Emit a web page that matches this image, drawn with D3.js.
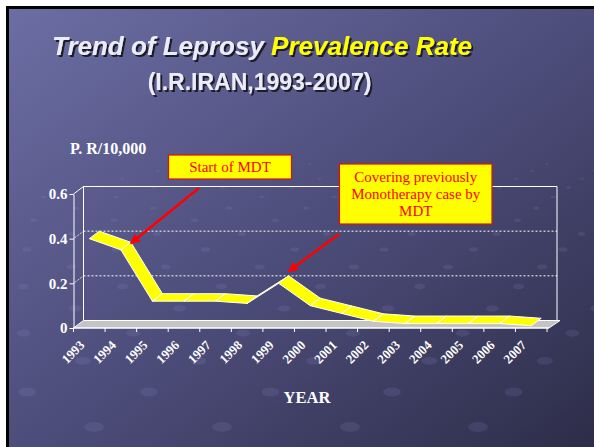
<!DOCTYPE html>
<html>
<head>
<meta charset="utf-8">
<script src="https://cdn.jsdelivr.net/npm/d3@7"></script>
<style>
  body { margin: 0; background: #fff; }
  svg { display: block; }
</style>
</head>
<body>
<script>
// data
const years = ["1993", "1994", "1995", "1996", "1997", "1998", "1999", "2000",
  "2001", "2002", "2003", "2004", "2005", "2006", "2007"];
const rates = [0.40, 0.35, 0.12, 0.12, 0.12, 0.11, 0.20, 0.10,
  0.065, 0.03, 0.02, 0.02, 0.02, 0.02, 0.01];
const yTicks = [0, 0.2, 0.4, 0.6];
const gridTicks = [0.2, 0.4];

const w = 594;
const h = 447;
const dx = 10, dy = -7.5; // 3d depth offset

const svg = d3.select("body").append("svg")
  .attr("width", w)
  .attr("height", h);

// slide background
const defs = svg.append("defs");
const grad = defs.append("linearGradient")
  .attr("id", "bg")
  .attr("x1", 0).attr("y1", 0).attr("x2", 1).attr("y2", 1);
grad.append("stop").attr("offset", "0%").attr("stop-color", "#6c6da3");
grad.append("stop").attr("offset", "50%").attr("stop-color", "#4d4d7b");
grad.append("stop").attr("offset", "100%").attr("stop-color", "#2c2c47");

defs.append("filter")
  .attr("id", "shadow")
  .attr("x", "-5%").attr("y", "-20%").attr("width", "115%").attr("height", "150%")
  .append("feDropShadow")
  .attr("dx", 2).attr("dy", 2)
  .attr("stdDeviation", 0.6)
  .attr("flood-color", "#1a1a2c")
  .attr("flood-opacity", 1);

svg.append("rect").attr("x", 6).attr("y", 6).attr("width", w).attr("height", h).attr("fill", "#000");
svg.append("rect").attr("x", 9).attr("y", 9).attr("width", w).attr("height", h).attr("fill", "url(#bg)");

// decorative dots of the template (perspective lattice)
let rowY = 427, rowX = 350;
const dots = [];
for (let k = 0; k < 16; k++) {
  const f = Math.pow(0.89, k);
  const s = 128 * Math.pow(0.95, k);
  for (let m = -8; m <= 8; m++) {
    const x = rowX + m * s;
    if (x > 0 && x < w + 20) dots.push({ x: x, y: rowY, f: f });
  }
  rowY -= 35 * f;
  rowX += 42 * f;
}
svg.append("g").selectAll("ellipse")
  .data(dots)
  .enter()
  .append("ellipse")
  .attr("cx", (d) => d.x)
  .attr("cy", (d) => d.y)
  .attr("rx", (d) => 10 * d.f)
  .attr("ry", (d) => 5 * d.f)
  .attr("fill", "rgba(150,150,210,0.15)");

// title
const title = svg.append("g")
  .attr("font-family", "'Liberation Sans', Arial, sans-serif")
  .attr("font-weight", "bold")
  .attr("text-anchor", "middle")
  .attr("filter", "url(#shadow)");

const t1 = title.append("text")
  .attr("x", 262).attr("y", 55)
  .attr("font-size", 26)
  .attr("font-style", "italic");
t1.append("tspan").text("Trend of Leprosy ").attr("fill", "#ececf8");
t1.append("tspan").text("Prevalence Rate").attr("fill", "#ffff00");
title.append("text")
  .attr("x", 259.5).attr("y", 90)
  .attr("font-size", 23)
  .attr("fill", "#ececf8")
  .text("(I.R.IRAN,1993-2007)");

/* ######## scales ######### */
const xScale = d3.scaleBand().domain(years).range([73.5, 547]);
const yScale = d3.scaleLinear().domain([0, 0.6]).range([328, 194]);
const cx = (d) => xScale(d) + xScale.bandwidth() / 2;

const x0 = xScale.range()[0], x1 = xScale.range()[1];
const yTop = yScale(0.6), yBase = yScale(0);

const chart = svg.append("g");

// floor
chart.append("polygon")
  .attr("points", [[x0, yBase], [x1 + 2, yBase], [x1 + 2 + dx + 1, yBase + dy], [x0 + dx, yBase + dy]].join(" "))
  .attr("fill", "#c4c4c4")
  .attr("stroke", "#fff")
  .attr("stroke-width", 1);

// back wall outline + side edge
chart.append("path")
  .attr("d", "M" + (x0 + dx) + "," + (yBase + dy) + "V" + (yTop + dy) + "H" + (x1 + dx) + "V" + (yBase + dy)
    + "M" + x0 + "," + yTop + "L" + (x0 + dx) + "," + (yTop + dy))
  .attr("fill", "none")
  .attr("stroke", "#fff")
  .attr("stroke-width", 1);

// gridlines on the back wall
chart.selectAll(".grid")
  .data(gridTicks)
  .enter()
  .append("line")
  .attr("class", "grid")
  .attr("x1", x0 + dx).attr("x2", x1 + dx)
  .attr("y1", (d) => yScale(d) + dy).attr("y2", (d) => yScale(d) + dy)
  .attr("stroke", "#fff")
  .attr("stroke-dasharray", "2,2");

chart.selectAll(".gridside")
  .data(gridTicks)
  .enter()
  .append("line")
  .attr("class", "gridside")
  .attr("x1", x0).attr("x2", x0 + dx)
  .attr("y1", (d) => yScale(d)).attr("y2", (d) => yScale(d) + dy)
  .attr("stroke", "#fff")
  .attr("stroke-dasharray", "1,1");

// ribbon
const segs = d3.pairs(years.map((y, i) => [cx(y), yScale(rates[i])]));
chart.selectAll(".seg")
  .data(segs)
  .enter()
  .append("polygon")
  .attr("class", "seg")
  .attr("points", (d) => [d[0], d[1], [d[1][0] + dx, d[1][1] + dy], [d[0][0] + dx, d[0][1] + dy]].join(" "))
  .attr("fill", "#ffff00")
  .attr("stroke", "#fff")
  .attr("stroke-width", 1)
  .attr("stroke-linejoin", "round");

// y axis
const yAxis = d3.axisLeft(yScale)
  .tickValues(yTicks)
  .tickSize(4)
  .tickSizeOuter(0)
  .tickPadding(2)
  .tickFormat((d) => (d === 0 ? "0" : d3.format(".1f")(d)));

const yG = svg.append("g")
  .attr("transform", "translate(" + x0 + ",0)")
  .call(yAxis);
yG.selectAll("line, path").attr("stroke", "#fff");
yG.selectAll("text")
  .attr("fill", "#fff")
  .attr("font-family", "'Liberation Serif', 'Times New Roman', serif")
  .attr("font-weight", "bold")
  .attr("font-size", 15);

// x axis: ticks between categories, rotated labels
const xG = svg.append("g").attr("transform", "translate(0," + yBase + ")");
xG.append("line")
  .attr("x1", x0).attr("x2", x1 + 2)
  .attr("stroke", "#fff");
xG.selectAll(".tick")
  .data(years.map((y) => xScale(y)).concat([x1]))
  .enter()
  .append("line")
  .attr("x1", (d) => d).attr("x2", (d) => d)
  .attr("y1", 0).attr("y2", 4)
  .attr("stroke", "#fff");
xG.selectAll(".lab")
  .data(years)
  .enter()
  .append("text")
  .attr("transform", (d) => "translate(" + (cx(d) - 4) + ",18) rotate(-45)")
  .attr("text-anchor", "end")
  .attr("fill", "#fff")
  .attr("font-family", "'Liberation Serif', 'Times New Roman', serif")
  .attr("font-weight", "bold")
  .attr("font-size", 13)
  .text((d) => d);

// axis titles
svg.append("text")
  .attr("x", 70).attr("y", 154)
  .attr("fill", "#fff")
  .attr("font-family", "'Liberation Serif', 'Times New Roman', serif")
  .attr("font-weight", "bold")
  .attr("font-size", 16)
  .text("P. R/10,000");

svg.append("text")
  .attr("x", 307).attr("y", 403)
  .attr("text-anchor", "middle")
  .attr("fill", "#fff")
  .attr("font-family", "'Liberation Serif', 'Times New Roman', serif")
  .attr("font-weight", "bold")
  .attr("font-size", 16.5)
  .text("YEAR");

// annotations
defs.append("marker")
  .attr("id", "head")
  .attr("viewBox", "0 0 10 10")
  .attr("refX", 9).attr("refY", 5)
  .attr("markerWidth", 4).attr("markerHeight", 4)
  .attr("orient", "auto")
  .append("path")
  .attr("d", "M0,0L10,5L0,10z")
  .attr("fill", "#ff0000");

const notes = [
  { lines: ["Start of MDT"], box: [168.5, 155, 123, 24], from: [199, 188], year: "1994", value: 0.35, off: [10, -6.5] },
  { lines: ["Covering previously", "Monotherapy case by", "MDT"], box: [339.5, 164, 152.5, 60], from: [339, 234], year: "1999", value: 0.20, off: [10, -12] }
];

notes.forEach(function (n) {
  svg.append("line")
    .attr("x1", n.from[0]).attr("y1", n.from[1])
    .attr("x2", cx(n.year) + n.off[0]).attr("y2", yScale(n.value) + n.off[1])
    .attr("stroke", "#ff0000")
    .attr("stroke-width", 2.5)
    .attr("marker-end", "url(#head)");
  svg.append("rect")
    .attr("x", n.box[0]).attr("y", n.box[1])
    .attr("width", n.box[2]).attr("height", n.box[3])
    .attr("fill", "#ffff00")
    .attr("stroke", "#e01010")
    .attr("stroke-width", 1.2);
  const t = svg.append("text")
    .attr("text-anchor", "middle")
    .attr("fill", "#ff0000")
    .attr("font-family", "'Liberation Serif', 'Times New Roman', serif")
    .attr("font-size", 15);
  const top = n.box[1] + n.box[3] / 2 - (n.lines.length - 1) * 17.3 / 2 + 5;
  n.lines.forEach(function (l, i) {
    t.append("tspan")
      .attr("x", n.box[0] + n.box[2] / 2)
      .attr("y", top + i * 17.3)
      .text(l);
  });
});
</script>
</body>
</html>
